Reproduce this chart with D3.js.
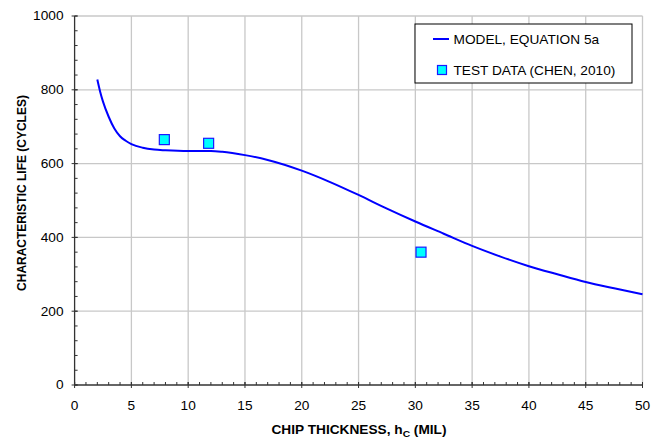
<!DOCTYPE html>
<html><head><meta charset="utf-8">
<script src="https://cdn.jsdelivr.net/npm/d3@7"></script>
<style>body{margin:0;background:#fff}text{font-family:"Liberation Sans",Arial,sans-serif}</style>
</head><body>
<svg id="c" width="659" height="438"></svg>
<script>
const modelX = [2,2.25,2.5,3,3.5,4,4.5,5,6,7,8,10,12,13,15,17,20,22.5,25,27.5,30,32.5,35,37.5,40,42.5,45,47.5,50];
const modelY = [828,795,768,727,695,674,662,653,643,638,636,634,634,632,623,610,581,550,515,478,443,410,377,348,322,300,279,262,246];
const testX = [7.9,11.8,30.5];
const testY = [665,655,360];
const xTicks = [0,5,10,15,20,25,30,35,40,45,50];
const yTicks = [0,200,400,600,800,1000];
const seriesNames = ["MODEL, EQUATION 5a","TEST DATA (CHEN, 2010)"];

const SX = 1.14; // horizontal stretch of text in the reference
const svg = d3.select("#c");
const L=74.6, R=642.5, T=16, B=385;
const x = d3.scaleLinear().domain([0,50]).range([L,R]);
const y = d3.scaleLinear().domain([0,1000]).range([B,T]);

// gridlines
svg.append("g").selectAll("line").data(xTicks.filter(d=>d>0)).join("line")
 .attr("x1",d=>x(d)).attr("x2",d=>x(d)).attr("y1",T).attr("y2",B)
 .attr("stroke","#c8c8c8").attr("stroke-width",1.3);
svg.append("g").selectAll("line").data(yTicks.filter(d=>d>0)).join("line")
 .attr("x1",L).attr("x2",R).attr("y1",d=>y(d)).attr("y2",d=>y(d))
 .attr("stroke","#c8c8c8").attr("stroke-width",1.3);

// ticks
const ax = svg.append("g").attr("stroke","#333").attr("stroke-width",1);
ax.selectAll(".mx").data(d3.range(0,51,1)).join("line")
 .attr("x1",d=>x(d)).attr("x2",d=>x(d)).attr("y1",B-3).attr("y2",B);
ax.selectAll(".Mx").data(xTicks).join("line")
 .attr("x1",d=>x(d)).attr("x2",d=>x(d)).attr("y1",B-3).attr("y2",B+3);
ax.selectAll(".my").data(d3.range(0,1001,40)).join("line")
 .attr("x1",L).attr("x2",L+3).attr("y1",d=>y(d)).attr("y2",d=>y(d));
ax.selectAll(".My").data(yTicks).join("line")
 .attr("x1",L-3).attr("x2",L+3).attr("y1",d=>y(d)).attr("y2",d=>y(d));
ax.append("line").attr("x1",L).attr("x2",R).attr("y1",B).attr("y2",B).attr("stroke-width",1.3);
ax.append("line").attr("x1",L).attr("x2",L).attr("y1",T).attr("y2",B).attr("stroke-width",1.3);

// tick labels
svg.append("g").selectAll("text").data(xTicks).join("text")
 .attr("transform",d=>`translate(${x(d)},${B+25}) scale(${SX},1)`).attr("text-anchor","middle")
 .attr("font-size",12).attr("fill","#000").text(d=>d);
svg.append("g").selectAll("text").data(yTicks).join("text")
 .attr("transform",d=>`translate(63.5,${y(d)+4.3}) scale(${SX},1)`).attr("text-anchor","end")
 .attr("font-size",12).attr("fill","#000").text(d=>d);

// axis titles
const xt = svg.append("text").attr("transform",`translate(359,433.5) scale(${SX},1)`).attr("text-anchor","middle")
 .attr("font-size",12).attr("font-weight","bold");
xt.append("tspan").text("CHIP THICKNESS, h");
xt.append("tspan").attr("font-size",9).attr("dy",3).text("C");
xt.append("tspan").attr("dy",-3).text(" (MIL)");
svg.append("text").attr("transform",`translate(26,193) scale(${SX},1) rotate(-90)`)
 .attr("text-anchor","middle").attr("font-size",12).attr("font-weight","bold")
 .text("CHARACTERISTIC LIFE (CYCLES)");

// model line
const model = modelX.map((d,i)=>[d,modelY[i]]);
svg.append("path").datum(model)
 .attr("d",d3.line().x(d=>x(d[0])).y(d=>y(d[1])).curve(d3.curveMonotoneX))
 .attr("fill","none").attr("stroke","#0000ff").attr("stroke-width",2);

// test points
const test = testX.map((d,i)=>[d,testY[i]]);
svg.append("g").selectAll("rect").data(test).join("rect")
 .attr("x",d=>x(d[0])-5).attr("y",d=>y(d[1])-5).attr("width",10).attr("height",10)
 .attr("fill","#00ffff").attr("stroke","#1a1aff").attr("stroke-width",1.2);

// legend
const lg = svg.append("g");
lg.append("rect").attr("x",415).attr("y",24).attr("width",217).attr("height",59)
 .attr("fill","#fff").attr("stroke","#000").attr("stroke-width",1);
lg.append("line").attr("x1",433).attr("x2",449).attr("y1",39).attr("y2",39)
 .attr("stroke","#0000ff").attr("stroke-width",2);
lg.append("text").attr("transform",`translate(453.5,44) scale(${SX},1)`).attr("font-size",12).text(seriesNames[0]);
lg.append("rect").attr("x",437.5).attr("y",65.5).attr("width",9).attr("height",9)
 .attr("fill","#00ffff").attr("stroke","#1a1aff").attr("stroke-width",1.2);
lg.append("text").attr("transform",`translate(453.5,74.5) scale(${SX},1)`).attr("font-size",12).text(seriesNames[1]);
</script>
</body></html>
